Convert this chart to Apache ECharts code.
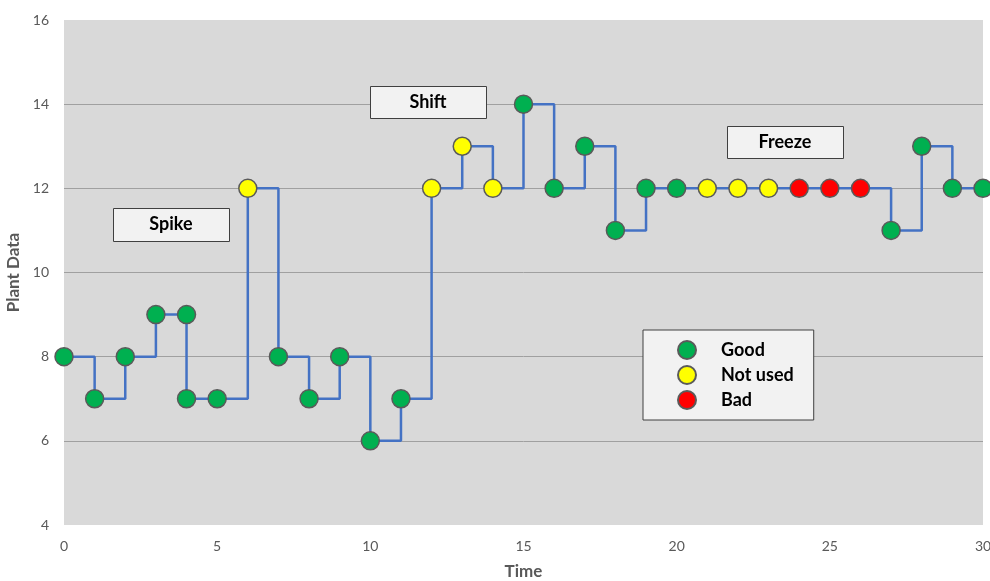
<!DOCTYPE html>
<html>
<head>
<meta charset="utf-8">
<script src="https://cdn.jsdelivr.net/npm/echarts@6/dist/echarts.min.js"></script>
<style>
html,body{margin:0;padding:0;background:#fff;}
#chart{width:990px;height:581px;}
</style>
</head>
<body>
<div id="chart"></div>
<script>
// Data
var timeValues = [0,1,2,3,4,4,5,6,7,8,9,10,11,12,13,14,15,16,17,18,19,20,21,22,23,24,25,26,27,28,29,30];
var plantValues = [8,7,8,9,9,7,7,12,8,7,8,6,7,12,13,12,14,12,13,11,12,12,12,12,12,12,12,12,11,13,12,12];
var statusValues = ['Good','Good','Good','Good','Good','Good','Good','Not used','Good','Good','Good','Good','Good','Not used','Not used','Not used','Good','Good','Good','Good','Good','Good','Not used','Not used','Not used','Bad','Bad','Bad','Good','Good','Good','Good'];
var statusNames = ['Good','Not used','Bad'];
var statusColors = {'Good':'#00b050','Not used':'#ffff00','Bad':'#ff0000'};
var annotations = [
  {text:'Spike', x:113, y:208, w:116, h:33},
  {text:'Shift', x:370, y:86, w:116, h:32},
  {text:'Freeze', x:727, y:126, w:116, h:32}
];

var FONT = 'Lato, "Open Sans", sans-serif';
var pointData = timeValues.map(function(t,i){
  return {value:[t, plantValues[i]], itemStyle:{color:statusColors[statusValues[i]]}};
});

var series = [{
  type:'line',
  step:'end',
  data:pointData,
  symbol:'circle',
  symbolSize:18,
  showAllSymbol:true,
  clip:false,
  lineStyle:{color:'#4472c4', width:2.5},
  itemStyle:{borderColor:'#5a5a5a', borderWidth:1.5},
  z:3
}];
statusNames.forEach(function(n){
  series.push({
    type:'scatter', name:n, data:[],
    symbol:'circle', symbolSize:18,
    itemStyle:{color:statusColors[n], borderColor:'#5a5a5a', borderWidth:1.5, opacity:1}
  });
});

var graphics = [];
annotations.forEach(function(a){
  graphics.push({
    type:'rect', left:a.x, top:a.y, z:100,
    shape:{x:0,y:0,width:a.w,height:a.h},
    style:{fill:'#f2f2f2', stroke:'#404040', lineWidth:1}
  });
  graphics.push({
    type:'text', x:a.x + a.w/2, y:a.y + a.h/2, z:101,
    style:{text:a.text, fill:'#000', font:'bold 18px '+FONT, textAlign:'center', textVerticalAlign:'middle'}
  });
});

var chart = echarts.init(document.getElementById('chart'));
chart.setOption({
  animation:false,
  grid:{left:64, right:7, top:20, bottom:56, show:true, backgroundColor:'#d9d9d9', borderWidth:0, containLabel:false, outerBoundsMode:'none'},
  xAxis:{
    type:'value', min:0, max:30, interval:5,
    name:'Time', nameLocation:'middle', nameGap:38,
    nameTextStyle:{color:'#595959', fontSize:17, fontWeight:'bold', fontFamily:FONT},
    axisLine:{show:false}, axisTick:{show:false}, splitLine:{show:false},
    axisLabel:{color:'#595959', fontSize:14, fontFamily:FONT, margin:14}
  },
  yAxis:{
    type:'value', min:4, max:16, interval:2,
    name:'Plant Data', nameLocation:'middle', nameGap:38,
    nameTextStyle:{color:'#595959', fontSize:17, fontWeight:'bold', fontFamily:FONT},
    axisLine:{show:false}, axisTick:{show:false},
    splitLine:{show:true, showMinLine:false, showMaxLine:false, lineStyle:{color:'#a0a0a0', width:1}},
    axisLabel:{color:'#595959', fontSize:14, fontFamily:FONT, margin:15}
  },
  legend:{
    data:statusNames, orient:'vertical', left:643, top:330,
    selectedMode:false,
    backgroundColor:'#f2f2f2', borderColor:'#404040', borderWidth:1,
    padding:[10,20,10,34], itemGap:5, itemWidth:18, itemHeight:18, icon:'circle',
    itemStyle:{opacity:1},
    textStyle:{color:'#000', fontSize:18, lineHeight:18, fontWeight:'bold', fontFamily:FONT, padding:[0,0,0,20]}
  },
  graphic:graphics,
  series:series
});
</script>
</body>
</html>
